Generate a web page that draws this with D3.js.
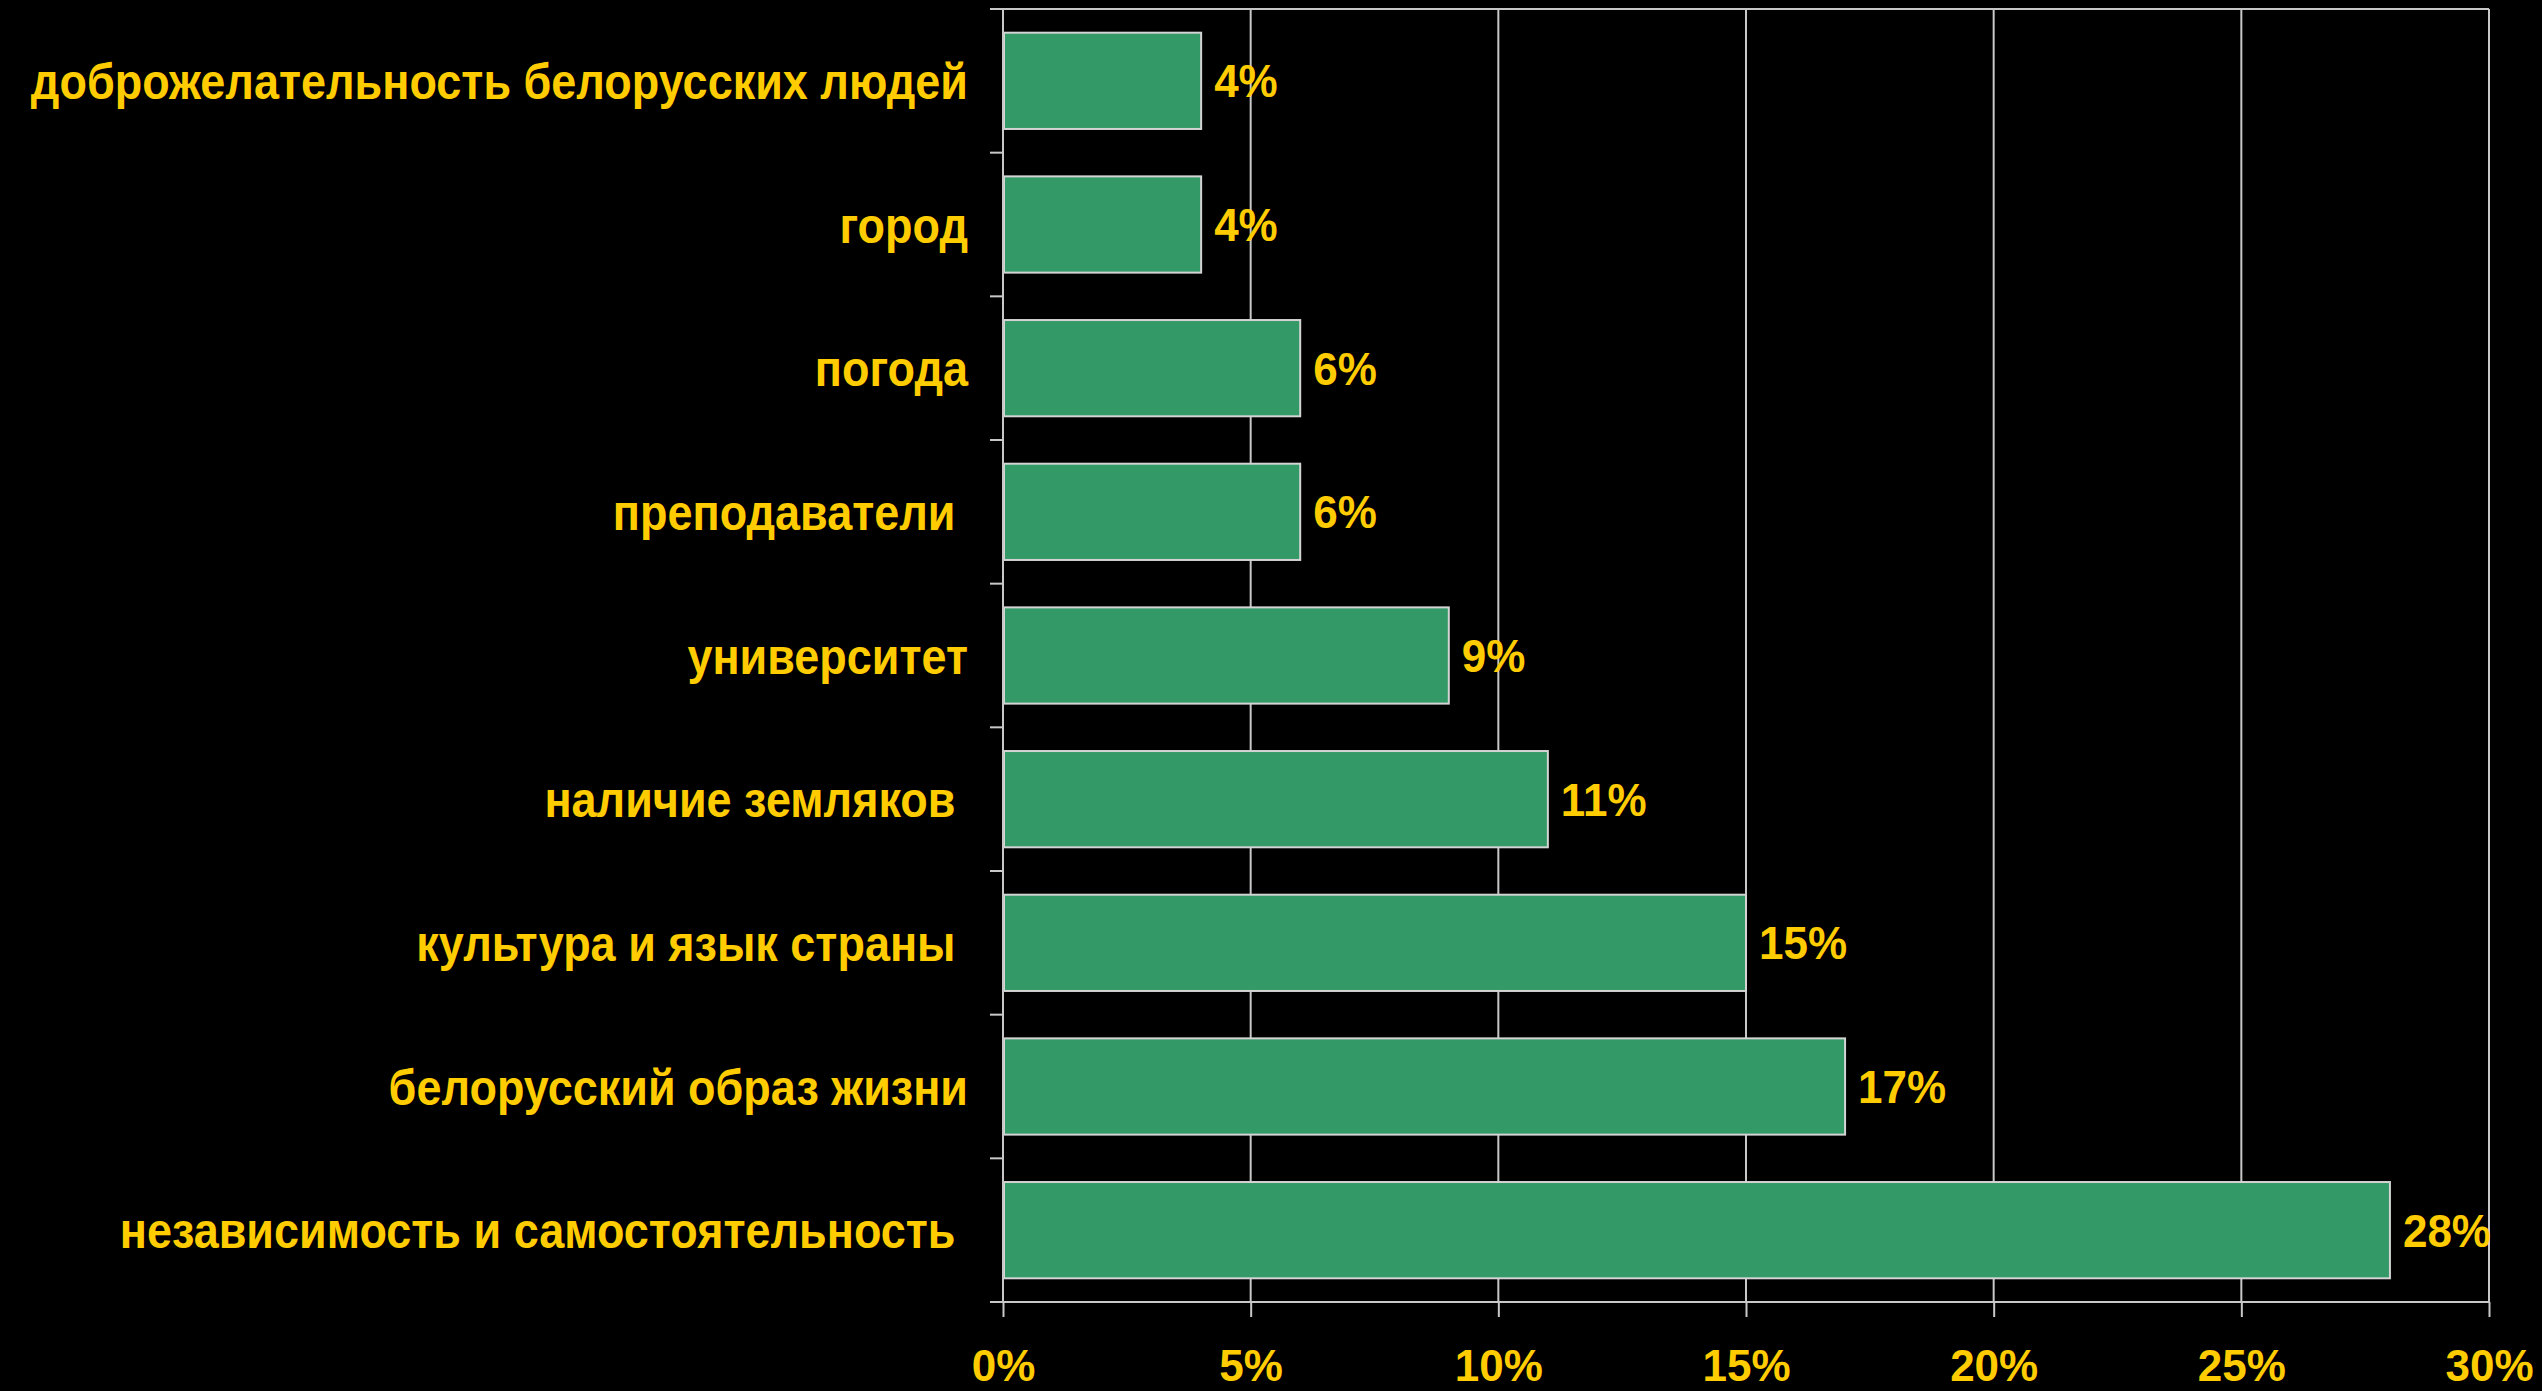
<!DOCTYPE html>
<html><head><meta charset="utf-8">
<script src="https://cdn.jsdelivr.net/npm/d3@7"></script>
<style>
html,body{margin:0;padding:0;background:#000;}
svg{display:block;}
text{font-family:"Liberation Sans",Arial,sans-serif;font-weight:bold;fill:#FFCC00;white-space:pre;}
</style></head>
<body>
<svg id="chart" width="2542" height="1391"></svg>
<script>
const categories = [
  "доброжелательность белорусских людей",
  "город",
  "погода",
  "преподаватели ",
  "университет",
  "наличие земляков ",
  "культура и язык страны ",
  "белорусский образ жизни",
  "независимость и самостоятельность "
];
const values = [4, 4, 6, 6, 9, 11, 15, 17, 28];
const tickValues = [0, 5, 10, 15, 20, 25, 30];
const tickLabels = ["0%", "5%", "10%", "15%", "20%", "25%", "30%"];

const svg = d3.select("#chart");
const m = {left: 1003, right: 2489, top: 9, bottom: 1302};
const gridColor = "#c8c8c8";

const x = d3.scaleLinear().domain([0, 30]).range([m.left, m.right]);
const y = d3.scaleBand().domain(categories).range([m.top, m.bottom]).paddingInner(0.33).paddingOuter(0.165);

// gridlines
svg.append("g").selectAll("line").data(tickValues.slice(1)).join("line")
  .attr("x1", d => x(d)).attr("x2", d => x(d))
  .attr("y1", m.top).attr("y2", m.bottom)
  .attr("stroke", gridColor).attr("stroke-width", 2);
// top border
svg.append("line").attr("x1", m.left - 13).attr("x2", m.right)
  .attr("y1", m.top).attr("y2", m.top).attr("stroke", gridColor).attr("stroke-width", 2);

// bars
svg.append("g").selectAll("rect").data(values).join("rect")
  .attr("x", x(0) + 1)
  .attr("y", (d, i) => y(categories[i]))
  .attr("width", d => x(d) - x(0) - 1)
  .attr("height", y.bandwidth())
  .attr("fill", "#339966")
  .attr("stroke", "#d4d4d4").attr("stroke-width", 2);

// value labels
svg.append("g").selectAll("text").data(values).join("text")
  .attr("transform", (d, i) => `translate(${x(d) + 13},${y(categories[i]) + y.bandwidth() / 2}) scale(1,1.05)`)
  .attr("dy", "0.36em")
  .attr("font-size", 44)
  .text(d => d + "%");

// x axis
const xAxis = d3.axisBottom(x).tickValues(tickValues).tickFormat((d, i) => tickLabels[i]).tickSize(15).tickPadding(33);
const gx = svg.append("g").attr("transform", `translate(0,${m.bottom})`).call(xAxis);
gx.select(".domain").attr("stroke", gridColor).attr("stroke-width", 2).attr("d", `M${m.left - 13},0H${m.right}`);
gx.selectAll(".tick line").attr("stroke", gridColor).attr("stroke-width", 2);
gx.selectAll(".tick text").attr("font-size", 44).attr("fill", "#FFCC00").attr("font-family", "Liberation Sans, Arial, sans-serif").attr("font-weight", "bold");

// y axis line and ticks at band boundaries
const boundaries = d3.range(categories.length + 1).map(i => m.top + i * (m.bottom - m.top) / categories.length);
svg.append("line").attr("x1", m.left).attr("x2", m.left).attr("y1", m.top).attr("y2", m.bottom)
  .attr("stroke", gridColor).attr("stroke-width", 2);
svg.append("g").selectAll("line").data(boundaries).join("line")
  .attr("x1", m.left - 13).attr("x2", m.left)
  .attr("y1", d => d).attr("y2", d => d)
  .attr("stroke", gridColor).attr("stroke-width", 2);

// category labels
svg.append("g").selectAll("text").data(categories).join("text")
  .attr("transform", d => `translate(968,${y(d) + y.bandwidth() / 2}) scale(1,1.12)`)
  .attr("dy", "0.36em")
  .attr("text-anchor", "end")
  .attr("font-size", 45)
  .text(d => d);
</script>
</body></html>
